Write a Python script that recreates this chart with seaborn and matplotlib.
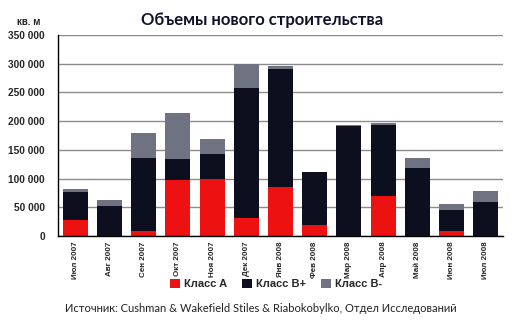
import matplotlib
matplotlib.use("Agg")
import matplotlib.pyplot as plt
import seaborn as sns
import numpy as np
import pandas as pd
from matplotlib.patches import Patch
from matplotlib.ticker import FuncFormatter, MultipleLocator, FixedLocator

months = ["Июл 2007", "Авг 2007", "Сен 2007", "Окт 2007", "Ноя 2007", "Дек 2007",
          "Янв 2008", "Фев 2008", "Мар 2008", "Апр 2008", "Май 2008", "Июн 2008", "Июл 2008"]
class_a = [27000, 0, 9000, 98000, 99000, 31000, 85000, 19000, 0, 70000, 0, 8000, 0]
class_bp = [50000, 53000, 127000, 36000, 44000, 227000, 205000, 92000, 192000, 124000, 118000, 38000, 59000]
class_bm = [4000, 10000, 43000, 81000, 26000, 42000, 6000, 0, 1000, 3000, 18000, 10000, 20000]

series_names = ["Класс A", "Класс B+", "Класс B-"]
colors = ["#EE1111", "#0D0F1E", "#6F7381"]

df = pd.DataFrame({"month": months, "a": class_a, "bp": class_bp, "bm": class_bm})
df["cum_a"] = df["a"]
df["cum_bp"] = df["a"] + df["bp"]
df["cum_bm"] = df["cum_bp"] + df["bm"]

sns.set_theme(style="white")
plt.rcParams["font.family"] = ["Liberation Sans", "DejaVu Sans"]

fig = plt.figure(figsize=(5.21, 3.22), dpi=100)
ax = fig.add_axes([58/521, 1-236/322, (503-58)/521, (236-35)/322])

for col, c in [("cum_bm", colors[2]), ("cum_bp", colors[1]), ("cum_a", colors[0])]:
    sns.barplot(data=df, x="month", y=col, color=c, width=0.73, ax=ax,
                saturation=1, linewidth=0, order=months)

ax.set_ylim(0, 350000)
ax.set_xlim(-0.5, len(months) - 0.5)
ax.yaxis.set_major_locator(MultipleLocator(50000))
ax.yaxis.set_major_formatter(FuncFormatter(lambda v, p: f"{int(v):,}".replace(",", " ")))
ax.grid(axis="y", color="#8C8C8C", linewidth=1.0)
ax.set_axisbelow(True)
for s in ["top", "right"]:
    ax.spines[s].set_visible(False)
for s in ["left", "bottom"]:
    ax.spines[s].set_color("black")
    ax.spines[s].set_linewidth(1.0)

ax.set_xlabel("")
ax.set_ylabel("")
ax.tick_params(axis="y", which="major", direction="inout", length=5, width=1, color="black",
               labelsize=7.3, pad=7)
for t in ax.get_yticklabels():
    t.set_fontweight("bold")
ax.set_xticks(range(len(months)))
ax.set_xticklabels(months, rotation=90, fontsize=5.8, fontweight="bold", va="top")
ax.tick_params(axis="x", which="major", length=0, pad=4)
ax.xaxis.set_minor_locator(FixedLocator(np.arange(-0.5, len(months), 1.0)))
ax.tick_params(axis="x", which="minor", length=4, width=1, color="black")

fig.text(29/521, 1-22/322, "кв. м", fontsize=7, fontweight="bold", ha="center", va="center")
fig.text(262/521, 1-20/322, "Объемы нового строительства", fontsize=12, fontweight="bold",
         color="#10122A", ha="center", va="center", family=["Lato", "DejaVu Sans"])

handles = [Patch(facecolor=c, edgecolor="none") for c in colors]
fig.legend(handles, series_names, loc="center", bbox_to_anchor=(276/521, 1-284/322), ncol=3,
           frameon=False, prop={"weight": "bold", "size": 8}, handlelength=0.9, handleheight=0.9,
           handletextpad=0.3, columnspacing=1.4)

fig.text(261/521, 1-308/322, "Источник: Cushman & Wakefield Stiles & Riabokobylko, Отдел Исследований",
         fontsize=8.0, ha="center", va="center", color="#222222", family=["Lato", "DejaVu Sans"])

fig.savefig("out.png", dpi=100)
